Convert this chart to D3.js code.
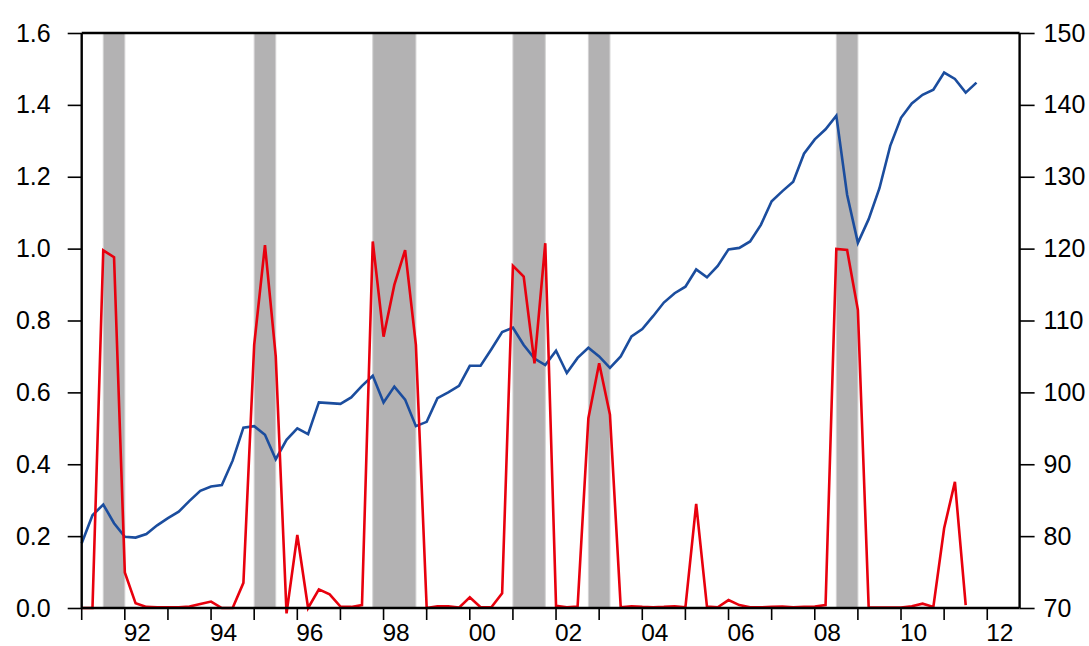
<!DOCTYPE html>
<html>
<head>
<meta charset="utf-8">
<script src="https://cdn.jsdelivr.net/npm/d3@7/dist/d3.min.js"></script>
<style>
  html, body { margin: 0; padding: 0; background: #fff; }
  svg { display: block; }
  text { font-family: "Liberation Sans", Arial, sans-serif; }
</style>
</head>
<body>
<svg id="chart" width="1089" height="646"></svg>
<script>
// ---- data (quarterly, starting 1991Q1) ----
const firstYear = 1991;
const nQuarters = 88; // 1991Q1 .. 2012Q4
const quarters = d3.range(nQuarters).map(i => `${firstYear + Math.floor(i / 4)}Q${(i % 4) + 1}`);

// blue series, right axis
const blueSeries = [
  79.0, 82.9, 84.4, 81.8, 79.9, 79.8, 80.3, 81.5, 82.5, 83.4,
  84.9, 86.3, 86.9, 87.1, 90.5, 95.1, 95.3, 94.1, 90.7, 93.4,
  95.0, 94.2, 98.6, 98.5, 98.4, 99.3, 100.9, 102.3, 98.6, 100.8,
  99.0, 95.3, 95.9, 99.2, 100.0, 100.9, 103.7, 103.7, 106.0, 108.4,
  109.0, 106.6, 104.7, 103.8, 105.8, 102.7, 104.8, 106.2, 105.0, 103.4,
  105.0, 107.8, 108.8, 110.6, 112.5, 113.8, 114.7, 117.1, 116.0, 117.6,
  119.9, 120.1, 121.0, 123.3, 126.6, 128.0, 129.3, 133.2, 135.2, 136.6,
  138.5, 127.5, 120.8, 124.1, 128.4, 134.3, 138.2, 140.2, 141.4, 142.1,
  144.5, 143.6, 141.7, 143.1
];

// red series, left axis
const redSeries = [
  0.0, 0.0, 0.995, 0.976, 0.099, 0.013, 0.003, 0.002, 0.002, 0.002,
  0.004, 0.011, 0.018, 0.0, 0.0, 0.07, 0.732, 1.01, 0.70, -0.015,
  0.203, 0.0, 0.052, 0.038, 0.004, 0.003, 0.008, 1.02, 0.755, 0.899,
  0.996, 0.732, 0.0, 0.005, 0.005, 0.001, 0.03, 0.002, 0.002, 0.041,
  0.952, 0.922, 0.681, 1.015, 0.006, 0.002, 0.004, 0.528, 0.681, 0.538,
  0.002, 0.005, 0.003, 0.002, 0.003, 0.005, 0.002, 0.29, 0.004, 0.002,
  0.022, 0.008, 0.002, 0.002, 0.003, 0.004, 0.002, 0.003, 0.004, 0.008,
  0.999, 0.996, 0.829, 0.001, 0.001, 0.001, 0.001, 0.005, 0.012, 0.003,
  0.222, 0.351, 0.008
];

// shaded periods (start quarter, end quarter)
const shadeStart = ["1991Q3", "1995Q1", "1997Q4", "2001Q1", "2002Q4", "2008Q3"];
const shadeEnd   = ["1992Q1", "1995Q3", "1998Q4", "2001Q4", "2003Q2", "2009Q1"];

const leftTicks  = [0.0, 0.2, 0.4, 0.6, 0.8, 1.0, 1.2, 1.4, 1.6];
const rightTicks = [70, 80, 90, 100, 110, 120, 130, 140, 150];
const yearTicks  = d3.range(1991, 2013);
const yearLabels = ["92", "94", "96", "98", "00", "02", "04", "06", "08", "10", "12"];

// ---- layout ----
const svg = d3.select("#chart");
const pLeft = 81.7, pRight = 1019.6, pTop = 33, pBottom = 608;

const x = d3.scaleLinear().domain([0, nQuarters - 1]).range([pLeft, pRight]);
const yL = d3.scaleLinear().domain([0, 1.6]).range([pBottom, pTop]);
const yR = d3.scaleLinear().domain([70, 150]).range([pBottom, pTop]);
const qIndex = q => quarters.indexOf(q);

// shading
svg.append("g").selectAll("rect")
  .data(shadeStart.map((s, i) => ({ s: qIndex(s), e: qIndex(shadeEnd[i]) })))
  .join("rect")
  .attr("x", d => x(d.s))
  .attr("width", d => x(d.e) - x(d.s))
  .attr("y", pTop)
  .attr("height", pBottom - pTop)
  .attr("fill", "#b3b2b3")
  .attr("stroke", "#d2d1d2")
  .attr("stroke-width", 1);

// blue line
svg.append("path")
  .datum(blueSeries)
  .attr("fill", "none")
  .attr("stroke", "#1b4d9e")
  .attr("stroke-width", 2.6)
  .attr("stroke-linejoin", "miter")
  .attr("d", d3.line().x((d, i) => x(i)).y(d => yR(d)));

// red line
svg.append("path")
  .datum(redSeries)
  .attr("fill", "none")
  .attr("stroke", "#e8000d")
  .attr("stroke-width", 2.6)
  .attr("stroke-linejoin", "miter")
  .attr("d", d3.line().x((d, i) => x(i)).y(d => yL(d)));

// left axis
const gL = svg.append("g").attr("transform", `translate(${pLeft},0)`)
  .call(d3.axisLeft(yL).tickValues(leftTicks).tickFormat(d3.format(".1f")).tickSize(14).tickPadding(17));
// right axis
const gR = svg.append("g").attr("transform", `translate(${pRight},0)`)
  .call(d3.axisRight(yR).tickValues(rightTicks).tickFormat(d3.format("d")).tickSize(15).tickPadding(9));
// bottom axis
const xYear = yr => x((yr - firstYear) * 4);
const gB = svg.append("g").attr("transform", `translate(0,${pBottom})`);
gB.append("line").attr("x1", pLeft).attr("x2", pRight).attr("y1", 0).attr("y2", 0)
  .attr("stroke", "#000").attr("stroke-width", 2.4);
gB.selectAll("line.tk").data(yearTicks).join("line").attr("class", "tk")
  .attr("x1", d => xYear(d)).attr("x2", d => xYear(d))
  .attr("y1", 0).attr("y2", 12).attr("stroke", "#000").attr("stroke-width", 1.6);
gB.selectAll("text").data(yearLabels).join("text")
  .attr("x", (d, i) => xYear(1992 + 2 * i) + 12.5)
  .attr("y", 33)
  .attr("text-anchor", "middle")
  .attr("font-size", 24.5)
  .attr("fill", "#000")
  .text(d => d);

// top frame
svg.append("line").attr("x1", pLeft).attr("x2", pRight).attr("y1", pTop).attr("y2", pTop)
  .attr("stroke", "#000").attr("stroke-width", 2.4);

[gL, gR].forEach(g => {
  g.select(".domain").attr("stroke", "#000").attr("stroke-width", 2.4)
    .attr("d", `M0,${pBottom}V${pTop}`);
  g.selectAll(".tick line").attr("stroke", "#000").attr("stroke-width", 1.6);
  g.selectAll(".tick text").attr("font-size", 25).attr("fill", "#000")
    .attr("font-family", '"Liberation Sans", Arial, sans-serif');
});
</script>
</body>
</html>
